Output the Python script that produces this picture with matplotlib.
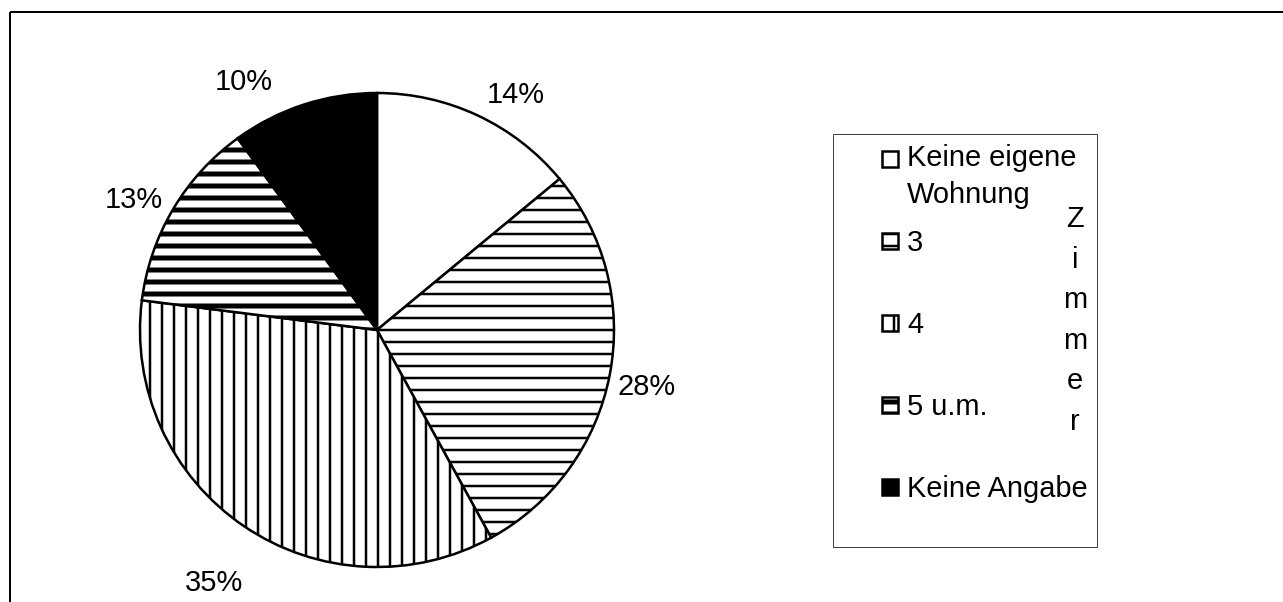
import numpy as np
import matplotlib
matplotlib.use("Agg")
import matplotlib.pyplot as plt
from matplotlib.patches import Rectangle

plt.rcParams['font.family'] = ['Liberation Sans', 'DejaVu Sans']

# data
labels = ["Keine eigene\nWohnung", "3", "4", "5 u.m.", "Keine Angabe"]
shares = [14, 28, 35, 13, 10]
side_title = "Zimmer"

faces = ["white", "white", "white", "white", "black"]
hatches = [None, "-", "|", "-", None]
hatch_lw = [2.5, 2.5, 2.5, 5, 2.5]
# label placement tweaks (Excel "best fit" style)
label_dist = [1.16, 1.16, 1.26, 1.17, 1.20]
label_turn = [-5, -0.5, 1, 2, 10]

W, H, DPI = 1283, 602, 72
FS = 29

fig = plt.figure(figsize=(W / DPI, H / DPI), dpi=DPI)

# pie axes: centre (377, 330) px, radius 237 px
R = 237
cx, cy = 377, 330
half = 300
ax = fig.add_axes([(cx - half) / W, (H - cy - half) / H, 2 * half / W, 2 * half / H])
wedges, texts, autotexts = ax.pie(
    shares, startangle=90, counterclock=False, colors=faces,
    autopct="%1.0f%%",
    wedgeprops=dict(edgecolor="black", linewidth=2.5),
    textprops=dict(fontsize=FS, color="black"))
for w, h, lw in zip(wedges, hatches, hatch_lw):
    if h:
        w.set_hatch(h)
        if hasattr(w, "set_hatch_linewidth"):
            w.set_hatch_linewidth(lw)
for w, t, d, turn in zip(wedges, autotexts, label_dist, label_turn):
    mid = np.deg2rad((w.theta1 + w.theta2) / 2 + turn)
    t.set_position((d * np.cos(mid), d * np.sin(mid)))
    t.set_verticalalignment("center_baseline")
ax.set_xlim(-half / R, half / R)
ax.set_ylim(-half / R, half / R)
ax.set_aspect("equal")
ax.axis("off")

# overlay in pixel coords for frame and legend
ov = fig.add_axes([0, 0, 1, 1])
ov.set_xlim(0, W)
ov.set_ylim(H, 0)
ov.axis("off")
ov.set_zorder(3)
ov.patch.set_alpha(0)

# outer chart frame (only top and left edges visible)
ov.add_patch(Rectangle((10, 12), W + 50, H + 50, fill=False, edgecolor="black", linewidth=2))

# legend box
ov.add_patch(Rectangle((833, 134), 264, 413, facecolor="white", edgecolor="#404040", linewidth=1))
ys = [159] + [241 + 82 * i for i in range(len(labels) - 1)]
for lab, y, fc, h, lw in zip(labels, ys, faces, hatches, hatch_lw):
    sq = Rectangle((882, y - 8), 16, 16, facecolor=fc, edgecolor="black", linewidth=2.5)
    if h:
        sq.set_hatch(h)
        if hasattr(sq, "set_hatch_linewidth"):
            sq.set_hatch_linewidth(lw)
    ov.add_patch(sq)
    nlines = lab.count("\n") + 1
    ov.text(907, y + 10 + 34 * (nlines - 1), lab, fontsize=FS, ha="left", va="baseline",
            linespacing=1.41)

ov.text(1075, 430, "\n".join(side_title), fontsize=FS, ha="center", va="baseline",
        linespacing=1.57, multialignment="center")

fig.savefig("out.png", dpi=DPI, facecolor="white")
